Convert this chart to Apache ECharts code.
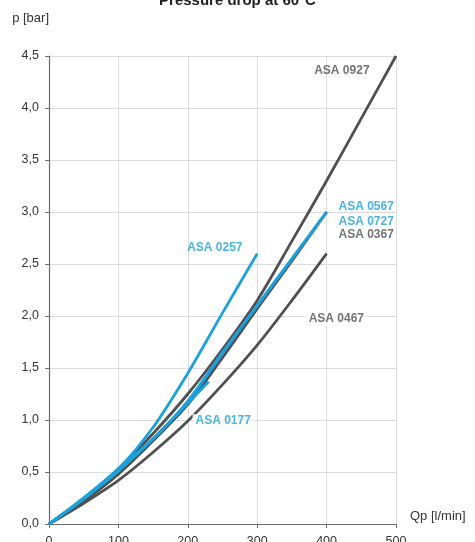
<!DOCTYPE html>
<html>
<head>
<meta charset="utf-8">
<script src="https://cdn.jsdelivr.net/npm/echarts@6/dist/echarts.min.js"></script>
<style>
  html, body { margin: 0; padding: 0; background: #fff; }
  #chart { width: 475px; height: 542px; }
</style>
</head>
<body>
<div id="chart"></div>
<script>
// flow rate Qp [l/min] and pressure drop p [bar] per valve
const q0927 = [0, 50, 100, 150, 200, 250, 300, 350, 400, 450, 500]
const p0927 = [0, 0.24, 0.53, 0.87, 1.25, 1.68, 2.15, 2.72, 3.3, 3.9, 4.5]
const q0567 = [0, 50, 100, 150, 200, 250, 300, 350, 400]
const p0567 = [0, 0.25, 0.53, 0.82, 1.18, 1.65, 2.1, 2.55, 3.0]
const p0727 = [0, 0.25, 0.52, 0.82, 1.18, 1.64, 2.1, 2.55, 3.0]
const p0367 = [0, 0.22, 0.48, 0.8, 1.15, 1.6, 2.07, 2.53, 3.0]
const p0467 = [0, 0.2, 0.42, 0.69, 0.99, 1.34, 1.72, 2.15, 2.6]
const q0257 = [0, 50, 100, 150, 200, 250, 300]
const p0257 = [0, 0.25, 0.53, 0.93, 1.45, 2.03, 2.6]
const q0177 = [0, 50, 100, 150, 200, 230]
const p0177 = [0, 0.24, 0.51, 0.82, 1.16, 1.37]

// label anchors in data units [Qp, p]
const labelNames = ['ASA 0927', 'ASA 0567', 'ASA 0727', 'ASA 0367', 'ASA 0257', 'ASA 0467', 'ASA 0177']
const labelAt = [[422, 4.36], [457, 3.05], [457, 2.91], [457, 2.78], [239, 2.66], [414, 1.97], [251, 0.99]]

const DARK = '#505050'
const BLUE = '#1ba1db'
const labelColors = [DARK, BLUE, BLUE, DARK, BLUE, DARK, BLUE]
const labelBg = [null, null, null, null, null, '#fff', '#fff']

const zip = (qs, ps) => qs.map((x, i) => [x, ps[i]])

function line(name, qs, ps, color) {
  return {
    name: name,
    type: 'line',
    smooth: 0.3,
    symbol: 'none',
    data: zip(qs, ps),
    lineStyle: { width: 2.8, color: color },
    z: 3
  }
}

const chart = echarts.init(document.getElementById('chart'))
chart.setOption({
  animation: false,
  title: {
    text: 'Pressure drop at 60°C',
    left: 'center',
    top: -12,
    textStyle: { fontFamily: 'Liberation Sans', fontSize: 15, fontWeight: 'bold', color: '#222' }
  },
  grid: { left: 49, right: 79, top: 56, bottom: 18, containLabel: false, outerBoundsMode: 'none' },
  xAxis: {
    type: 'value',
    min: 0,
    max: 500,
    interval: 100,
    name: 'Qp [l/min]',
    nameLocation: 'end',
    nameGap: 14,
    nameTextStyle: { fontFamily: 'Liberation Sans', fontSize: 13, color: '#333', verticalAlign: 'bottom', padding: [0, 0, 1, 0] },
    axisLine: { lineStyle: { color: '#6a6a6a', width: 1.2 } },
    axisTick: { show: true, length: 4, lineStyle: { color: '#6a6a6a' } },
    axisLabel: { fontFamily: 'Liberation Sans', fontSize: 12.5, color: '#333', margin: 11 },
    splitLine: { lineStyle: { color: '#dcdcdc' } }
  },
  yAxis: {
    type: 'value',
    min: 0,
    max: 4.5,
    interval: 0.5,
    name: 'p [bar]',
    nameLocation: 'end',
    nameGap: 31,
    nameTextStyle: { fontFamily: 'Liberation Sans', fontSize: 13, color: '#333', align: 'right' },
    axisLine: { show: true, lineStyle: { color: '#6a6a6a', width: 1.2 } },
    axisTick: { show: true, length: 4, lineStyle: { color: '#6a6a6a' } },
    axisLabel: {
      fontFamily: 'Liberation Sans', fontSize: 12.5, color: '#333', margin: 10,
      formatter: v => v.toFixed(1).replace('.', ',')
    },
    splitLine: { lineStyle: { color: '#dcdcdc' } }
  },
  series: [
    line('ASA 0467', q0567, p0467, DARK),
    line('ASA 0367', q0567, p0367, DARK),
    line('ASA 0927', q0927, p0927, DARK),
    line('ASA 0177', q0177, p0177, BLUE),
    line('ASA 0727', q0567, p0727, BLUE),
    line('ASA 0567', q0567, p0567, BLUE),
    line('ASA 0257', q0257, p0257, BLUE),
    {
      name: 'labels',
      type: 'scatter',
      symbolSize: 0,
      z: 5,
      data: labelAt.map((c, i) => ({
        value: c,
        label: {
          show: true,
          position: 'inside',
          formatter: labelNames[i],
          fontFamily: 'Liberation Sans',
          fontSize: 12,
          fontWeight: 'bold',
          color: labelColors[i],
          backgroundColor: labelBg[i] || 'transparent',
          padding: labelBg[i] ? [1, 3] : 0
        }
      }))
    }
  ]
})
</script>
</body>
</html>
